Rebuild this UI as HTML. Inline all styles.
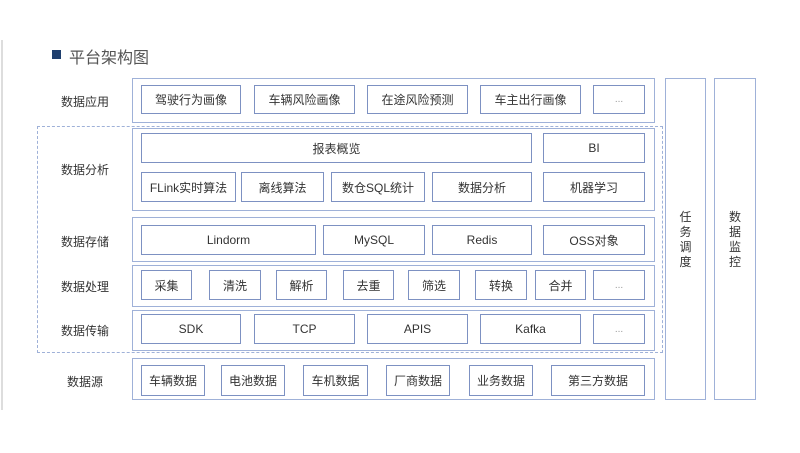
<!DOCTYPE html>
<html><head><meta charset="utf-8"><style>
body{margin:0;width:800px;height:453px;background:#fff;position:relative;overflow:hidden;font-family:"Liberation Sans","Noto Sans CJK SC",sans-serif;}
.a{position:absolute;box-sizing:border-box;}
.o{border:1.5px solid #9fb1d8;}
.b{border:1.5px solid #7d91c2;display:flex;align-items:center;justify-content:center;font-size:12px;color:#333;}
.l{font-size:12px;color:#333;width:100px;text-align:center;}
.d{color:#999;font-size:10px;}
</style></head><body>
<div class="a" style="left:1px;top:40px;width:2px;height:370px;background:#ddd"></div>
<div class="a" style="left:52px;top:50px;width:9px;height:9px;background:#1f3f6e"></div>
<div class="a" style="left:69px;top:44px;font-size:16px;color:#555">平台架构图</div>
<div class="a" style="left:37px;top:126px;width:626px;height:227px;border:1.5px dashed #9fb1d8"></div>

<div class="a o" style="left:132px;top:78px;width:523px;height:45px"></div>
<div class="a o" style="left:132px;top:128px;width:523px;height:83px"></div>
<div class="a o" style="left:132px;top:217px;width:523px;height:45px"></div>
<div class="a o" style="left:132px;top:265px;width:523px;height:42px"></div>
<div class="a o" style="left:132px;top:310px;width:523px;height:41px"></div>
<div class="a o" style="left:132px;top:358px;width:523px;height:42px"></div>
<div class="a o" style="left:665px;top:78px;width:41px;height:322px"></div>
<div class="a o" style="left:714px;top:78px;width:42px;height:322px"></div>
<div class="a" style="left:665px;top:210px;width:41px;text-align:center;font-size:12px;line-height:15px;color:#333">任<br>务<br>调<br>度</div>
<div class="a" style="left:714px;top:210px;width:42px;text-align:center;font-size:12px;line-height:15px;color:#333">数<br>据<br>监<br>控</div>

<div class="a l" style="left:35px;top:93px">数据应用</div>
<div class="a l" style="left:35px;top:161px">数据分析</div>
<div class="a l" style="left:35px;top:233px">数据存储</div>
<div class="a l" style="left:35px;top:278px">数据处理</div>
<div class="a l" style="left:35px;top:322px">数据传输</div>
<div class="a l" style="left:35px;top:373px">数据源</div>

<div class="a b" style="left:141px;top:85px;width:100px;height:29px">驾驶行为画像</div>
<div class="a b" style="left:254px;top:85px;width:101px;height:29px">车辆风险画像</div>
<div class="a b" style="left:367px;top:85px;width:101px;height:29px">在途风险预测</div>
<div class="a b" style="left:480px;top:85px;width:101px;height:29px">车主出行画像</div>
<div class="a b d" style="left:593px;top:85px;width:52px;height:29px">...</div>

<div class="a b" style="left:141px;top:133px;width:391px;height:30px">报表概览</div>
<div class="a b" style="left:543px;top:133px;width:102px;height:30px">BI</div>
<div class="a b" style="left:141px;top:172px;width:95px;height:30px">FLink实时算法</div>
<div class="a b" style="left:241px;top:172px;width:83px;height:30px">离线算法</div>
<div class="a b" style="left:331px;top:172px;width:94px;height:30px">数仓SQL统计</div>
<div class="a b" style="left:432px;top:172px;width:100px;height:30px">数据分析</div>
<div class="a b" style="left:543px;top:172px;width:102px;height:30px">机器学习</div>

<div class="a b" style="left:141px;top:225px;width:175px;height:30px">Lindorm</div>
<div class="a b" style="left:323px;top:225px;width:102px;height:30px">MySQL</div>
<div class="a b" style="left:432px;top:225px;width:100px;height:30px">Redis</div>
<div class="a b" style="left:543px;top:225px;width:102px;height:30px">OSS对象</div>

<div class="a b" style="left:141px;top:270px;width:51px;height:30px">采集</div>
<div class="a b" style="left:209px;top:270px;width:52px;height:30px">清洗</div>
<div class="a b" style="left:276px;top:270px;width:51px;height:30px">解析</div>
<div class="a b" style="left:343px;top:270px;width:51px;height:30px">去重</div>
<div class="a b" style="left:408px;top:270px;width:52px;height:30px">筛选</div>
<div class="a b" style="left:475px;top:270px;width:52px;height:30px">转换</div>
<div class="a b" style="left:535px;top:270px;width:51px;height:30px">合并</div>
<div class="a b d" style="left:593px;top:270px;width:52px;height:30px">...</div>

<div class="a b" style="left:141px;top:314px;width:100px;height:30px">SDK</div>
<div class="a b" style="left:254px;top:314px;width:101px;height:30px">TCP</div>
<div class="a b" style="left:367px;top:314px;width:101px;height:30px">APIS</div>
<div class="a b" style="left:480px;top:314px;width:101px;height:30px">Kafka</div>
<div class="a b d" style="left:593px;top:314px;width:52px;height:30px">...</div>

<div class="a b" style="left:141px;top:365px;width:64px;height:31px">车辆数据</div>
<div class="a b" style="left:221px;top:365px;width:64px;height:31px">电池数据</div>
<div class="a b" style="left:303px;top:365px;width:65px;height:31px">车机数据</div>
<div class="a b" style="left:386px;top:365px;width:64px;height:31px">厂商数据</div>
<div class="a b" style="left:469px;top:365px;width:64px;height:31px">业务数据</div>
<div class="a b" style="left:551px;top:365px;width:94px;height:31px">第三方数据</div>
</body></html>
